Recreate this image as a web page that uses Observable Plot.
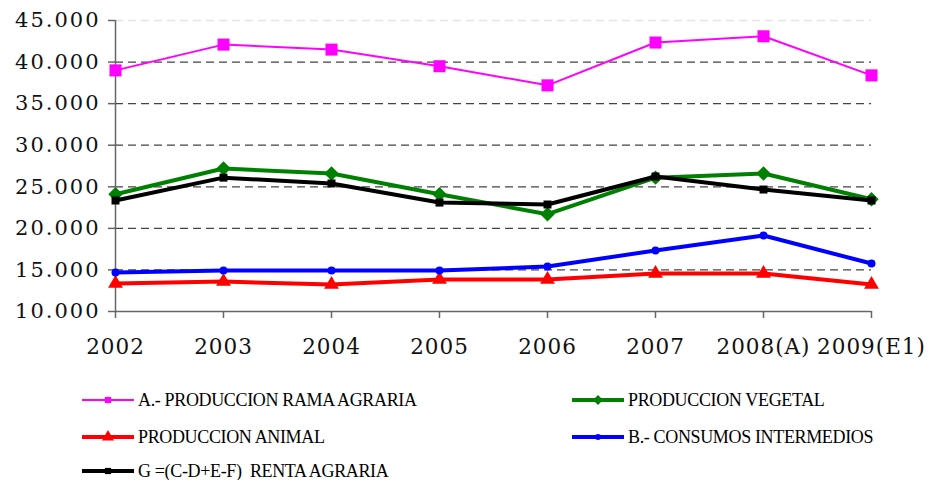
<!DOCTYPE html>
<html>
<head>
<meta charset="utf-8">
<script src="https://cdn.jsdelivr.net/npm/d3@7"></script>
<script src="https://cdn.jsdelivr.net/npm/@observablehq/plot@0.6"></script>
<style>
  html, body { margin: 0; padding: 0; background: #fff; }
  #wrap { position: relative; width: 928px; height: 480px; overflow: hidden; }
  #chart svg { display: block; }
  g[aria-label="y-axis tick label"] text { letter-spacing: 2px; }
  g[aria-label="x-axis tick label"] text { letter-spacing: 1px; }
  .leg { position: absolute; display: flex; align-items: center; font-family: "Liberation Serif", serif; font-size: 18px; letter-spacing: -0.35px; color: #000; white-space: pre; }
  .leg svg { display: block; margin-right: 4px; }
</style>
</head>
<body>
<div id="wrap">
  <div id="chart"></div>
  <div id="legend"></div>
</div>
<script>
const years = ["2002", "2003", "2004", "2005", "2006", "2007", "2008(A)", "2009(E1)"];
const seriesNames = [
  "A.- PRODUCCION RAMA AGRARIA",
  "PRODUCCION VEGETAL",
  "PRODUCCION ANIMAL",
  "B.- CONSUMOS INTERMEDIOS",
  "G =(C-D+E-F)  RENTA AGRARIA"
];
const produccionRamaAgraria = [39000, 42100, 41500, 39500, 37200, 42350, 43100, 38400];
const produccionVegetal     = [24100, 27200, 26600, 24100, 21700, 26100, 26600, 23500];
const produccionAnimal      = [13370, 13600, 13250, 13850, 13850, 14570, 14570, 13250];
const consumosIntermedios   = [14700, 14930, 14930, 14930, 15400, 17340, 19140, 15770];
const rentaAgraria          = [23350, 26100, 25400, 23100, 22870, 26240, 24670, 23350];
const yTicks = [10000, 15000, 20000, 25000, 30000, 35000, 40000, 45000];

const colors = ["#ff00ff", "#008000", "#ff0000", "#0000ff", "#000000"];
const symbols = ["square", "diamond2", "triangle", "circle", "square"];
const widths = [2, 4, 4, 4, 4];
const radii = [6.8, 6.5, 5.5, 4, 4.5];
const allValues = [produccionRamaAgraria, produccionVegetal, produccionAnimal, consumosIntermedios, rentaAgraria];

const series = seriesNames.map((name, i) => ({
  name, color: colors[i], symbol: symbols[i], width: widths[i], r: radii[i],
  data: years.map((y, j) => ({year: y, value: allValues[i][j]}))
}));

const locale = d3.formatLocale({decimal: ",", thousands: ".", grouping: [3], currency: ["", ""]});
const fmt = locale.format(",.0f");

const marks = [
  Plot.ruleY(yTicks.filter(v => v > 10000 && v < 45000), {y: d => d, stroke: "#444", strokeWidth: 1.3, strokeDasharray: "8,5"}),
  Plot.ruleY([45000], {y: d => d, stroke: "#e4e4e4", strokeWidth: 1.3, strokeDasharray: "8,5"}),
  Plot.ruleY([10000], {y: d => d, stroke: "#666", strokeWidth: 1.5}),
  Plot.ruleX([years[0]], {x: d => d, y1: 10000, y2: 45000, stroke: "#666", strokeWidth: 1.5}),
  Plot.axisY({ticks: yTicks, tickFormat: fmt, tickSize: 7, tickPadding: 8, label: null,
    fontSize: 21, fill: "#111", stroke: "#666", strokeWidth: 1.5}),
  Plot.axisX({tickSize: 7, tickPadding: 20, label: null, fontSize: 21.5, fill: "#111", stroke: "#666", strokeWidth: 1.5, dx: 0})
];
for (const s of series) {
  marks.push(Plot.line(s.data, {x: "year", y: "value", stroke: s.color, strokeWidth: s.width}));
  marks.push(Plot.dot(s.data, {x: "year", y: "value", symbol: () => s.symbol, fill: s.color, r: s.r, stroke: "none"}));
}

const chart = Plot.plot({
  width: 928,
  height: 370,
  marginLeft: 115,
  marginRight: 57,
  marginTop: 20,
  marginBottom: 59,
  style: {fontFamily: "DejaVu Serif", background: "#fff", overflow: "visible"},
  x: {type: "point", domain: years, padding: 0},
  y: {domain: [10000, 45000]},
  symbol: {type: "identity"},
  marks
});
document.getElementById("chart").appendChild(chart);

// Legend
const legendPos = [
  {left: 82, top: 400}, {left: 572, top: 400},
  {left: 82, top: 437}, {left: 572, top: 437},
  {left: 82, top: 471}
];
const legendMarkR = [3.5, 4.5, 4.5, 3, 3.5];
const symbolMap = {square: d3.symbolSquare, diamond2: d3.symbolDiamond2, triangle: d3.symbolTriangle, circle: d3.symbolCircle};
const legend = document.getElementById("legend");
series.forEach((s, i) => {
  const div = document.createElement("div");
  div.className = "leg";
  div.style.left = legendPos[i].left + "px";
  div.style.top = (legendPos[i].top - 11) + "px";
  div.style.height = "22px";
  const ns = "http://www.w3.org/2000/svg";
  const svg = document.createElementNS(ns, "svg");
  svg.setAttribute("width", 52); svg.setAttribute("height", 22);
  const line = document.createElementNS(ns, "line");
  line.setAttribute("x1", 0); line.setAttribute("x2", 52);
  line.setAttribute("y1", 11); line.setAttribute("y2", 11);
  line.setAttribute("stroke", s.color); line.setAttribute("stroke-width", s.width);
  svg.appendChild(line);
  const sym = d3.symbol(symbolMap[s.symbol], Math.PI * legendMarkR[i] * legendMarkR[i]);
  const path = document.createElementNS(ns, "path");
  path.setAttribute("d", sym());
  path.setAttribute("transform", "translate(26,11)");
  path.setAttribute("fill", s.color);
  svg.appendChild(path);
  div.appendChild(svg);
  const span = document.createElement("span");
  span.textContent = s.name;
  div.appendChild(span);
  legend.appendChild(div);
});
</script>
</body>
</html>
